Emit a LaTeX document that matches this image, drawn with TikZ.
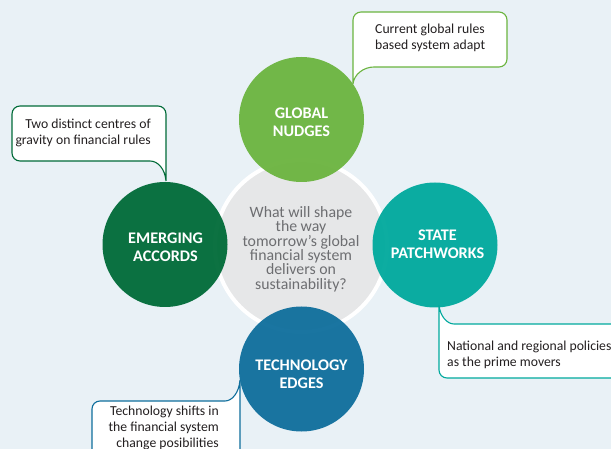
\documentclass[tikz,border=0pt]{standalone}
\usepackage{fontspec}
\setmainfont{Carlito}
\definecolor{bgc}{HTML}{E9F1F6}
\definecolor{gnc}{HTML}{6BB43F}
\definecolor{eac}{HTML}{006B38}
\definecolor{spc}{HTML}{00A99D}
\definecolor{tec}{HTML}{0E6E9C}
\definecolor{ctrfill}{HTML}{E6E7E8}
\definecolor{ctrtext}{HTML}{6D6E71}
\definecolor{calltext}{HTML}{231F20}
\tikzset{
  bigcirc/.style={circle, minimum size=125pt, inner sep=0pt, fill opacity=0.95, draw=none},
  circlabel/.style={text=white, font=\fontsize{16.2}{18}\selectfont\bfseries, align=center, inner sep=0pt},
  callout/.style={fill=white, line width=1.1pt, rounded corners=8pt},
  calltxt/.style={text=calltext, font=\fontsize{13.7}{16}\selectfont, inner sep=0pt}
}
\begin{document}
\begin{tikzpicture}[x=1pt,y=-1pt]
\path[use as bounding box] (0,0) rectangle (611,449);
\clip (0,0) rectangle (611,449);
\fill[bgc] (0,0) rectangle (611,449);
% centre circle
\node[circle, minimum size=172pt, inner sep=0pt, fill=ctrfill, draw=white, line width=4pt] (ctr) at (301,246) {};
\node[text=ctrtext, font=\fontsize{15.8}{14.4}\selectfont, align=center, inner sep=0pt] (ctrtxt) at (301,249)
  {What will shape\\the way\\tomorrow’s global\\financial system\\delivers on\\sustainability?};
% callouts
\draw[callout, draw=gnc] (353,84) -- (353,12) -- (507,12) -- (507,67) -- (382,67) .. controls (364,67) and (354,74) .. (353,84);
\node[calltxt, anchor=west, align=left] (gntxt) at (375,38) {Current global rules\\based system adapt};
\draw[callout, draw=eac] (166,181) -- (166,106) -- (12,106) -- (12,161) -- (142,161) .. controls (158,161) and (165,169) .. (166,181);
\node[calltxt, anchor=east, align=right] (eatxt) at (151,133) {Two distinct centres of\\gravity on financial rules};
\draw[callout, draw=spc] (439,305) -- (439,378) -- (650,378) -- (650,324) -- (462,324) .. controls (447,324) and (440,316) .. (439,305);
\node[calltxt, anchor=west, align=left] (sptxt) at (447,354.5) {National and regional policies\\as the prime movers};
\draw[callout, draw=tec] (240,380) -- (240,480) -- (92,480) -- (92,401) -- (217,401) .. controls (232,401) and (239,393) .. (240,380);
\node[calltxt, anchor=east, align=right] (tetxt) at (219,427.5) {Technology shifts in\\the financial system\\change posibilities};
% coloured circles
\node[bigcirc, fill=gnc] (gn) at (301.5,119.5) {};
\node[bigcirc, fill=eac] (ea) at (165,244.5) {};
\node[bigcirc, fill=spc] (sp) at (435,245) {};
\node[bigcirc, fill=tec] (te) at (301.5,369) {};
\node[circlabel] (gnl) at (301.5,122) {GLOBAL\\NUDGES};
\node[circlabel] (eal) at (165.5,247) {EMERGING\\ACCORDS};
\node[circlabel] (spl) at (437.5,244) {STATE\\PATCHWORKS};
\node[circlabel] (tel) at (301.5,374) {TECHNOLOGY\\EDGES};
\end{tikzpicture}
\end{document}
